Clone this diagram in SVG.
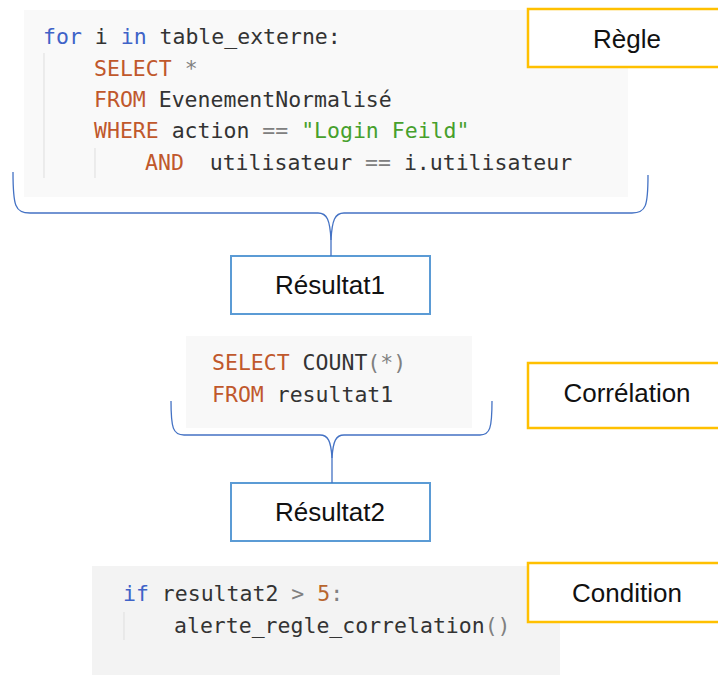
<svg xmlns="http://www.w3.org/2000/svg" width="718" height="675" viewBox="0 0 718 675">
  <style>
    .code { font-family: "DejaVu Sans Mono", "Liberation Mono", monospace; font-size: 21.5px; fill: #333333; }
    .kw { fill: #3f63c8; }
    .sql { fill: #c0582c; }
    .op { fill: #808080; }
    .str { fill: #46a02c; }
    .num { fill: #b8652e; }
    .guide { stroke: #e2e2e2; stroke-width: 1.2; }
    .label { font-family: "Liberation Sans", Arial, sans-serif; font-size: 26px; fill: #111111; text-anchor: middle; }
    .tag rect { fill: #ffffff; stroke: #ffc000; stroke-width: 2.5; }
    .result rect { fill: #ffffff; stroke: #5b9bd5; stroke-width: 2; }
    .brace { fill: none; stroke: #4472c4; stroke-width: 1.3; }
  </style>

  <rect width="718" height="675" fill="#ffffff"/>

  <!-- rule query -->
  <g id="code-regle">
    <rect x="24" y="10" width="604" height="187" fill="#f9f9f9"/>
    <line class="guide" x1="44" y1="53" x2="44" y2="178"/>
    <line class="guide" x1="95" y1="148" x2="95" y2="178"/>
    <text class="code" x="43" y="44" xml:space="preserve"><tspan class="kw">for</tspan> i <tspan class="kw">in</tspan> table_externe:</text>
    <text class="code" x="94" y="76" xml:space="preserve"><tspan class="sql">SELECT</tspan> <tspan class="op">*</tspan></text>
    <text class="code" x="94" y="107" xml:space="preserve"><tspan class="sql">FROM</tspan> EvenementNormalisé</text>
    <text class="code" x="94" y="138" xml:space="preserve"><tspan class="sql">WHERE</tspan> action <tspan class="op">==</tspan> <tspan class="str">"Login Feild"</tspan></text>
    <text class="code" x="145" y="170" xml:space="preserve"><tspan class="sql">AND</tspan>  utilisateur <tspan class="op">==</tspan> i.utilisateur</text>
  </g>

  <g id="tag-regle" class="tag">
    <rect x="528" y="9" width="192" height="58"/>
    <text class="label" x="627" y="48">Règle</text>
  </g>

  <!-- correlation query -->
  <g id="code-correlation">
    <rect x="186" y="336" width="286" height="92" fill="#f8f8f8"/>
    <text class="code" x="212" y="370" xml:space="preserve"><tspan class="sql">SELECT</tspan> COUNT<tspan class="op">(*)</tspan></text>
    <text class="code" x="212" y="402" xml:space="preserve"><tspan class="sql">FROM</tspan> resultat1</text>
  </g>

  <g id="tag-correlation" class="tag">
    <rect x="528" y="363" width="192" height="65"/>
    <text class="label" x="627" y="402">Corrélation</text>
  </g>

  <!-- condition -->
  <g id="code-condition">
    <rect x="92" y="566" width="468" height="109" fill="#f3f3f3"/>
    <line class="guide" x1="124" y1="612" x2="124" y2="640"/>
    <text class="code" x="123" y="601" xml:space="preserve"><tspan class="kw">if</tspan> resultat2 <tspan class="op">&gt;</tspan> <tspan class="num">5</tspan><tspan class="op">:</tspan></text>
    <text class="code" x="174" y="633" xml:space="preserve">alerte_regle_correlation<tspan class="op">()</tspan></text>
  </g>

  <g id="tag-condition" class="tag">
    <rect x="528" y="563" width="192" height="59"/>
    <text class="label" x="627" y="602">Condition</text>
  </g>

  <!-- results -->
  <g id="resultat1" class="result">
    <rect x="231" y="256" width="199" height="58"/>
    <text class="label" x="330" y="294">Résultat1</text>
  </g>

  <g id="resultat2" class="result">
    <rect x="231" y="483" width="199" height="58"/>
    <text class="label" x="330" y="521">Résultat2</text>
  </g>

  <!-- braces -->
  <g id="connectors">
    <path class="brace" d="M13,172 C13,206 15,213 30,213 L318,213 C327,213 330,220 331,240 L331,256"/>
    <path class="brace" d="M648,175 C648,206 646,213 632,213 L344,213 C335,213 332,220 331,240"/>
    <path class="brace" d="M171,401 C171,428 173,435 184,435 L320,435 C328,435 331,441 332,458 L332,483"/>
    <path class="brace" d="M492,401 C492,428 490,435 480,435 L344,435 C336,435 333,441 332,458"/>
  </g>
</svg>
